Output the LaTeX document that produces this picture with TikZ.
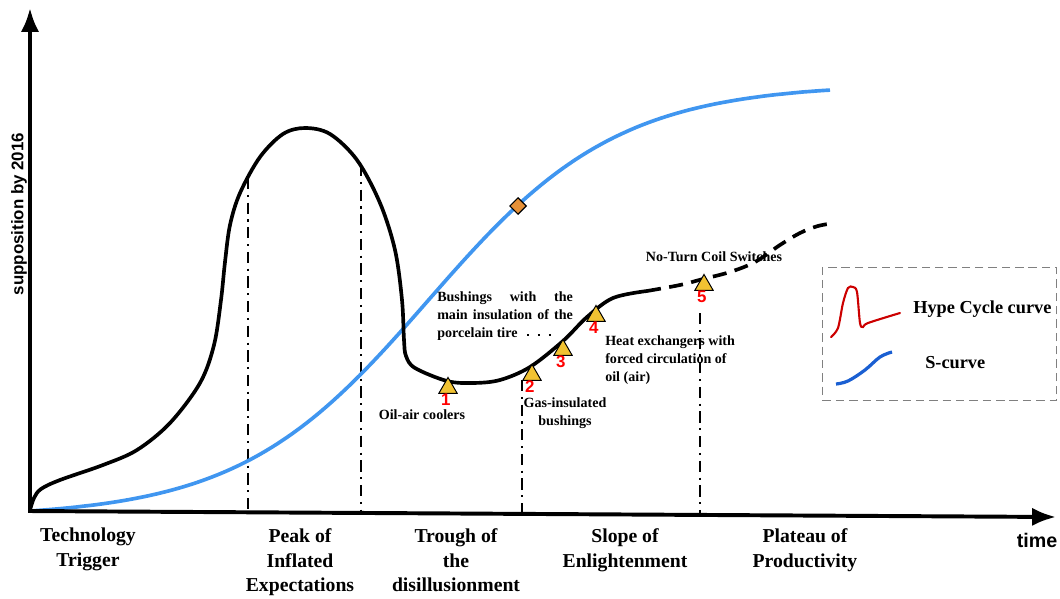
\documentclass[tikz,border=0pt]{standalone}
\usepackage{fontspec}
\setmainfont{Liberation Serif}
\setsansfont{Liberation Sans}
\usetikzlibrary{arrows.meta,shapes.geometric,positioning}

\definecolor{sline}{RGB}{64,150,240}
\definecolor{legred}{RGB}{204,0,0}
\definecolor{legblue}{RGB}{26,95,210}
\definecolor{markfill}{RGB}{241,194,50}
\definecolor{dmdfill}{RGB}{230,145,56}

\begin{document}
\begin{tikzpicture}[x=0.025cm,y=-0.025cm,>={Latex[length=17pt,width=13pt]},
  axis/.style={line width=2.8pt,->},
  hype/.style={line width=2.6pt,line join=round,line cap=round},
  guide/.style={line width=2.1pt,dash pattern=on 8pt off 4pt on 1.5pt off 4pt},
  tri/.style={regular polygon,regular polygon sides=3,draw,fill=markfill,line width=0.7pt,minimum size=15pt,inner sep=0pt},
  num/.style={font=\sffamily\bfseries\fontsize{12}{12}\selectfont,text=red,inner sep=0pt},
  note/.style={font=\bfseries\fontsize{10}{12.8}\selectfont,inner sep=0pt},
  phase/.style={font=\bfseries\fontsize{14}{17.7}\selectfont,align=center,inner sep=0pt,anchor=north},
  leader/.style={line width=1.6pt,dash pattern=on 1.6pt off 6.2pt},
  legbox/.style={draw=gray,line width=0.8pt,dash pattern=on 6pt off 3.5pt,minimum width=166.5pt,minimum height=95pt,inner sep=0pt}]

  \useasboundingbox (0,0) rectangle (1060,599);

  \coordinate (O) at (30,511);
  \coordinate (ytip) at (30,8);
  \coordinate (xtip) at (1056,517);

  \foreach \gx/\gtop in {248/178,361/165,522/380,700/313}
    \draw[guide] (\gx,\gtop) -- (\gx,{511+(\gx-30)*6/1026});

  \draw[line width=2.6pt,sline] plot[domain=30:830,samples=120]
    (\x,{511-421*(1/(1+exp(-(\x-428)/95))-0.01493)/0.97075});
  \node[diamond,aspect=1,draw,fill=dmdfill,line width=0.8pt,minimum size=12pt,inner sep=0pt] (dmd) at (518,206) {};

  \draw[hype] plot[smooth,tension=0.55] coordinates {(30,510) (34,498) (41,489) (60,480) (103,465) (137,450)
    (170,423) (200,383) (214,345) (221,300) (225,262) (230,225) (240,193) (260,157) (283,134) (305,128)
    (330,134) (357,160) (380,203) (395,250) (402,300) (404,340) (406,356) (415,368) (447,381) (473,383)
    (500,380) (530,367) (563,341) (587,317) (613,298) (647,291)};
  \draw[hype,line cap=butt,dash pattern=on 10pt off 6pt] plot[smooth,tension=0.55] coordinates {(647,291) (680,285)
    (703,279) (730,272) (755,262) (780,245) (800,233) (818,226) (835,223)};

  \draw[axis] (O) -- (ytip);
  \draw[axis] ([xshift=-1.4pt]O) -- (xtip);

  \foreach \i/\tx/\ty in {1/448/388,2/532/375,3/563/350,4/596/316,5/704/285}{
    \node[tri] (t\i) at (\tx,\ty) {};
    \node[num,below=0pt of t\i,xshift=-1.5pt] (n\i) {\i};
  }

  \node[note,anchor=north west,text width=96.5pt,align=justify] (bush) at (437,291)
    {Bushings with the\linebreak main insulation of the\linebreak porcelain tire};
  \coordinate (dots0) at (527,335);
  \coordinate (dots1) at (553,335);
  \draw[leader] (dots0) -- (dots1);
  \node[note,anchor=base] (oil) at (422,419) {Oil-air coolers};
  \node[note,anchor=north,align=center] (gas) at (565,397) {Gas-insulated\\bushings};
  \node[note,anchor=north west,align=left] (heat) at (605,335) {Heat exchangers with\\forced circulation of\\oil (air)};
  \node[note,anchor=base] (coil) at (714,261) {No-Turn Coil Switches};

  \node[phase] (trigger) at (88,528) {Technology\\Trigger};
  \node[phase] (peak) at (300,528) {Peak of\\Inflated\\Expectations};
  \node[phase] (trough) at (456,528) {Trough of\\the\\disillusionment};
  \node[phase] (slope) at (625,528) {Slope of\\Enlightenment};
  \node[phase] (plateau) at (805,528) {Plateau of\\Productivity};

  \node[font=\sffamily\bfseries\fontsize{14}{14}\selectfont,anchor=base,inner sep=0pt] (time) at (1037,547) {time};
  \node[font=\sffamily\bfseries\fontsize{12}{12}\selectfont,rotate=90,inner sep=0pt] (ylab) at (19,214) {supposition by 2016};

  \node[legbox] (legend) at (939.5,334) {};
  \draw[legred,line width=1.5pt,line cap=round] plot[smooth,tension=0.5] coordinates {(831,337) (838,328) (843,303)
    (848,288) (853,287) (857,292) (860,323) (863,327) (868,323) (900,313)};
  \draw[legblue,line width=2.3pt] plot[smooth,tension=0.6] coordinates {(836,384) (848,381) (865,370) (880,357) (892,352)};
  \node[anchor=base west,inner sep=0pt,font=\bfseries\fontsize{13}{13}\selectfont] (hypelab) at (913,313) {Hype Cycle curve};
  \node[anchor=base west,inner sep=0pt,font=\bfseries\fontsize{13}{13}\selectfont] (slab) at (925,368) {S-curve};
\end{tikzpicture}
\end{document}
